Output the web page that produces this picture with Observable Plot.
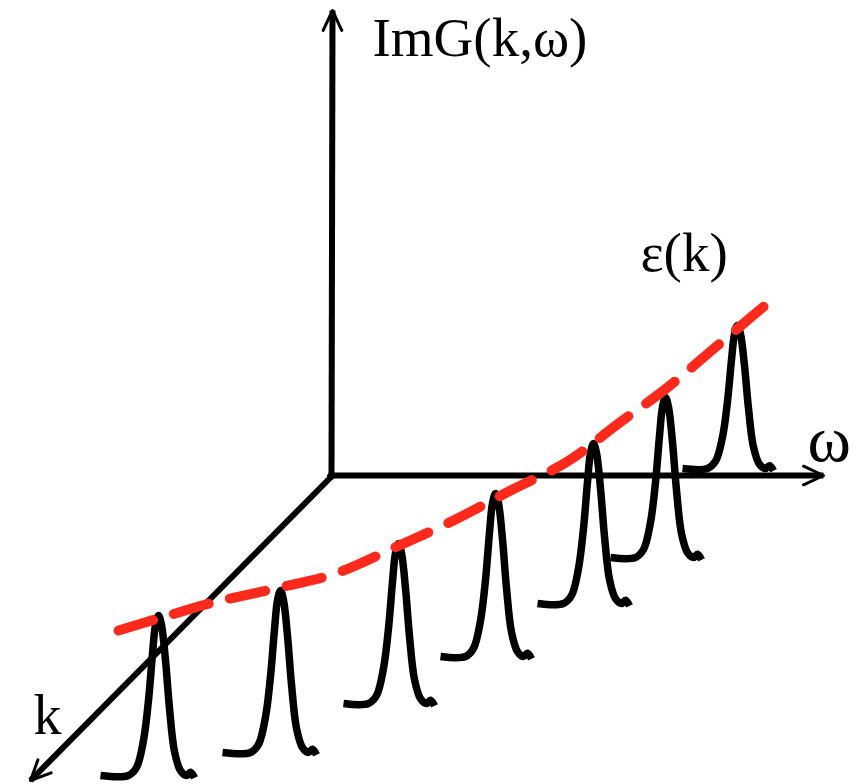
<!DOCTYPE html>
<html>
<head>
<meta charset="utf-8">
<script src="https://cdn.jsdelivr.net/npm/d3@7"></script>
<script src="https://cdn.jsdelivr.net/npm/@observablehq/plot@0.6"></script>
<style>
  html, body { margin: 0; padding: 0; background: #fff; }
  #chart svg { display: block; }
</style>
</head>
<body>
<div id="chart"></div>
<script>
// ---- Diagram data (schematic coordinates, y grows downward) ----
// Axes of the 3-D sketch: ImG (up), ω (right), k (toward viewer, down-left)
const axisNames = ["ImG", "omega", "k"];
const axisX1 = [331, 328, 333];
const axisY1 = [478, 475, 474];
const axisX2 = [332, 823, 30];
const axisY2 = [10, 475, 780];

// Spectral peaks: position along ω (centre), baseline level, peak height
const peakCentre = [158, 280, 398, 495, 593, 665, 737];
const peakBase   = [775, 752, 703, 656, 603, 557, 468];
const peakHeight = [160, 162, 160, 163, 160, 160, 143];
const peakStart  = [100, 222, 343, 440, 537, 610, 682];

// Shape of one peak: ω offset from centre, fraction of height
const shapeDx = [-30, -22, -15, -10, -6, -3, 0, 3, 7, 11, 16, 22, 28, 32, 36];
const shapeH  = [0, 0.05, 0.22, 0.47, 0.76, 0.94, 1, 0.94, 0.72, 0.42, 0.15, 0.03, 0, 0.02, -0.015];

// Dispersion ε(k): red dashed curve through the peak maxima
const epsX = [118, 158, 213, 275, 335, 392, 453, 510, 567, 618, 667, 717, 768];
const epsY = [630, 618, 602, 588, 573, 548, 520, 490, 461, 423, 387, 345, 302];

// Labels
const labelText = ["ImG(k,ω)", "ε(k)", "ω", "k"];
const labelX    = [372, 640, 807, 33];
const labelY    = [55, 270, 460, 733];
const labelSize = [55, 55, 66, 56];

// ---- Build tables ----
const axes = axisNames.map((n, i) => ({n, x1: axisX1[i], y1: axisY1[i], x2: axisX2[i], y2: axisY2[i]}));
const peaks = [];
peakCentre.forEach((c, i) => {
  peaks.push({p: i, x: peakStart[i], y: peakBase[i]});
  shapeDx.forEach((dx, j) => {
    peaks.push({p: i, x: c + dx, y: peakBase[i] - shapeH[j] * peakHeight[i]});
  });
});
const eps = epsX.map((x, i) => ({x, y: epsY[i]}));
const labels = labelText.map((t, i) => ({t, x: labelX[i], y: labelY[i], s: labelSize[i]}));

const W = 857, H = 784;
const chart = Plot.plot({
  width: W, height: H,
  margin: 0,
  x: {domain: [0, W], range: [0, W], axis: null},
  y: {domain: [0, H], range: [0, H], axis: null},
  style: {background: "#fff"},
  marks: [
    Plot.line(peaks, {x: "x", y: "y", z: "p", stroke: "#000", strokeWidth: 7.5, curve: "catmull-rom", strokeLinejoin: "round", strokeLinecap: "butt"}),
    Plot.link(axes, {x1: "x1", y1: "y1", x2: "x2", y2: "y2", stroke: "#000", strokeWidth: 6}),
    Plot.arrow(axes, {x1: "x1", y1: "y1", x2: "x2", y2: "y2", stroke: "#000", strokeWidth: 3, headLength: 11, headAngle: 50}),
    Plot.line(eps, {x: "x", y: "y", stroke: "#ff2a1c", strokeWidth: 10, strokeDasharray: "36,22", curve: "catmull-rom"}),
    Plot.text(labels, {x: "x", y: "y", text: "t", fontSize: "s", textAnchor: "start", lineAnchor: "bottom", fontFamily: "Liberation Serif", fill: "#000"})
  ]
});
document.getElementById("chart").appendChild(chart);
</script>
</body>
</html>
